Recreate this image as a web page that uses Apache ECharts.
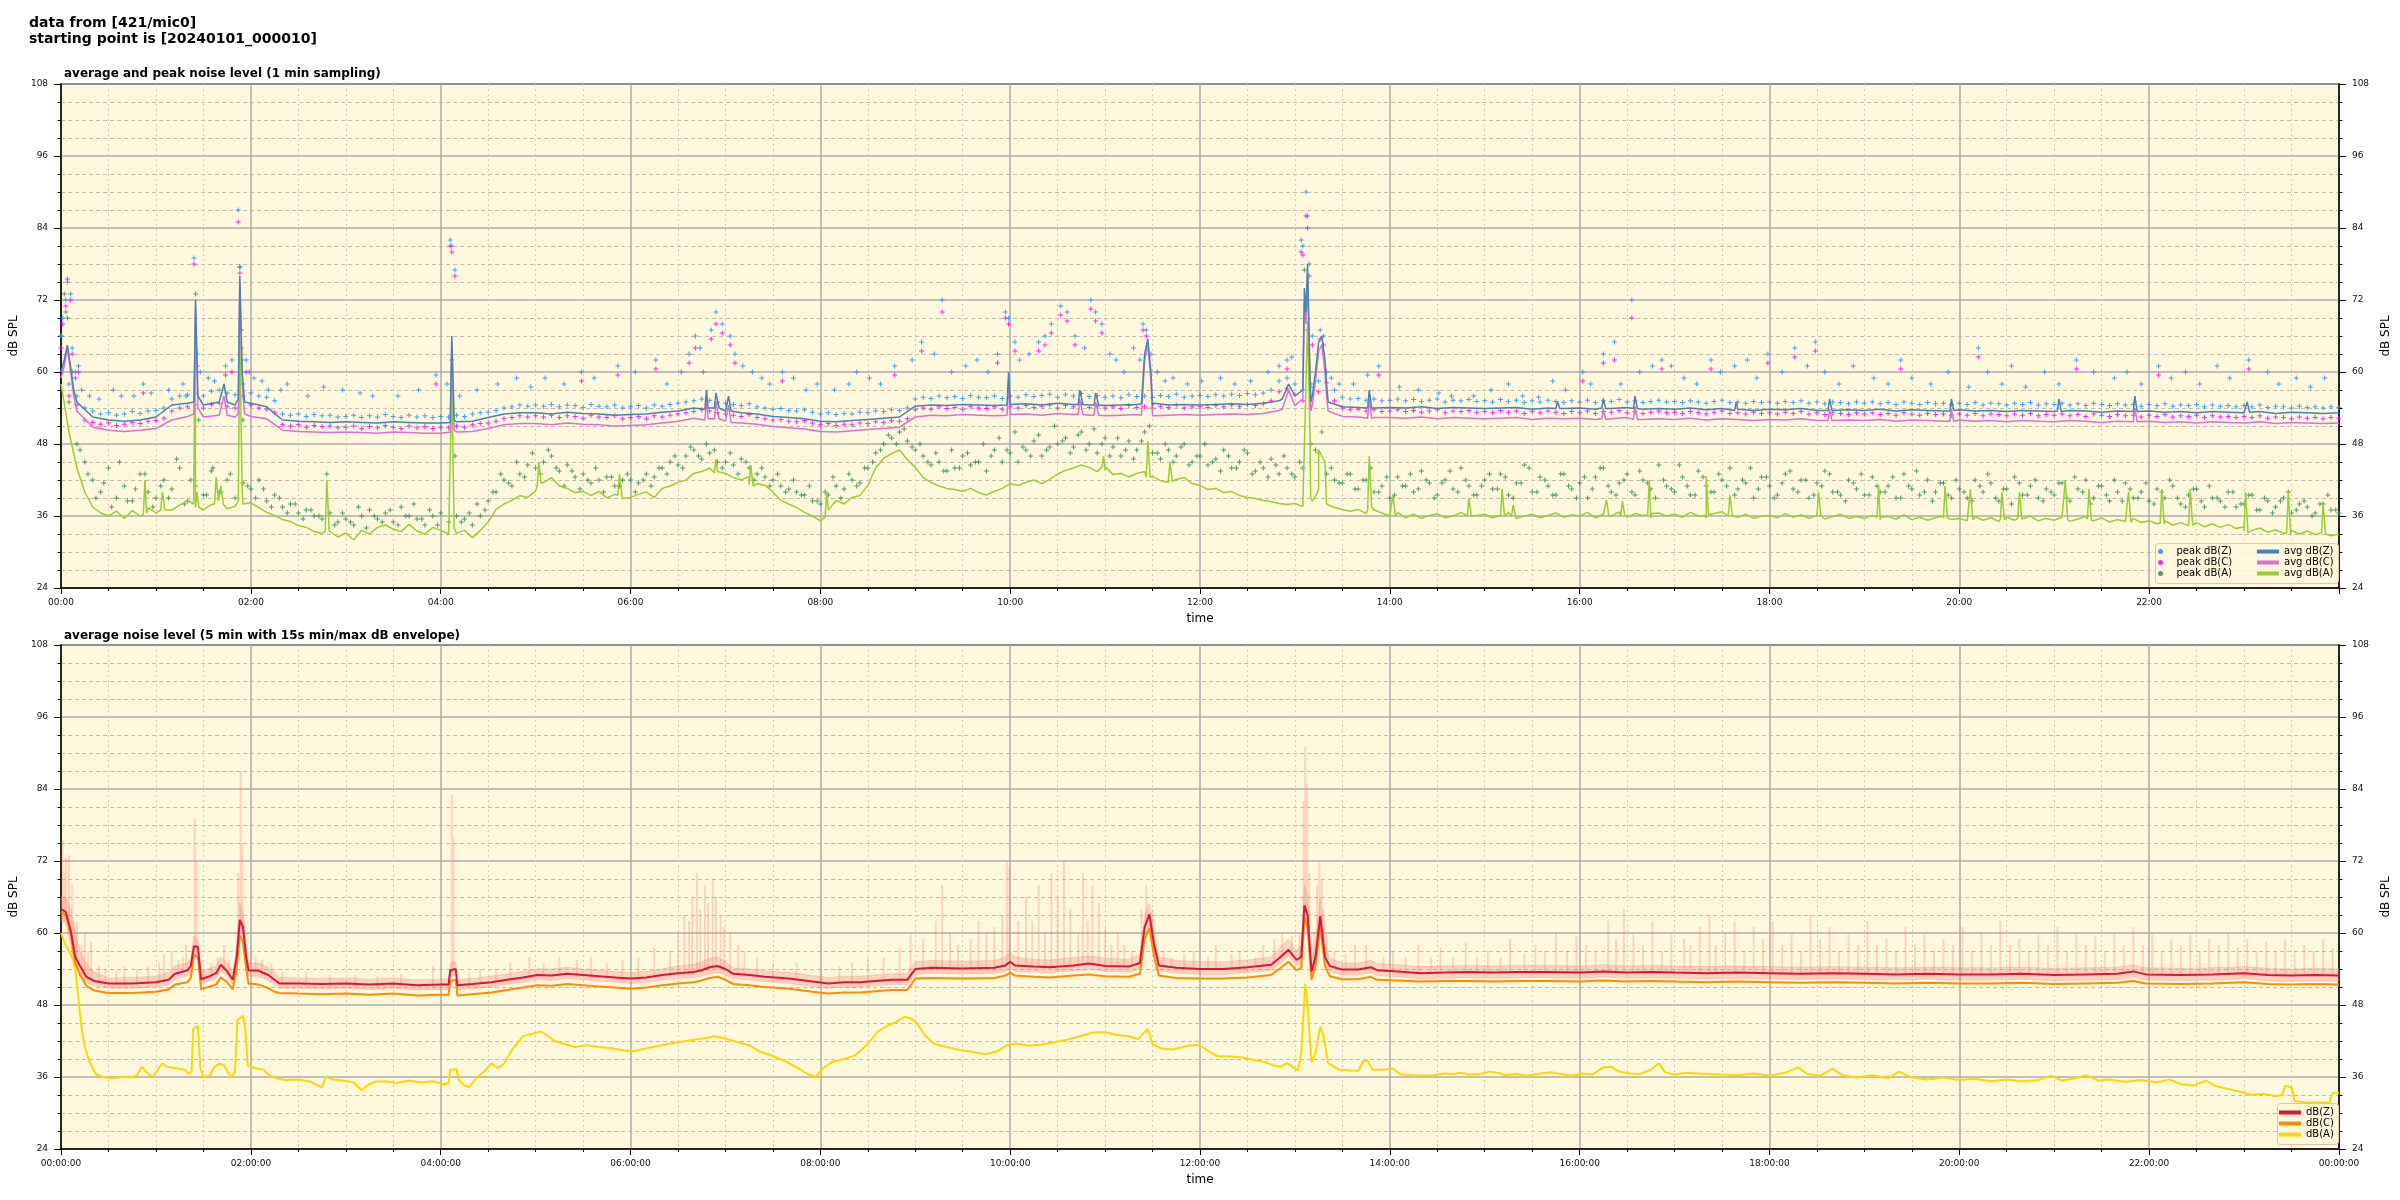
<!DOCTYPE html>
<html><head><meta charset="utf-8">
<script src="https://cdn.jsdelivr.net/npm/echarts/dist/echarts.min.js"></script>
<style>html,body{margin:0;padding:0;background:#fff}#c{width:2400px;height:1200px}</style>
</head><body><div id="c"></div>
<script>
// ---------- tick labels ----------
const yTicks = [24, 36, 48, 60, 72, 84, 96, 108];
const hourTicks = [0,120,240,360,480,600,720,840,960,1080,1200,1320,1440];

// ---------- top chart: 1-min averages (5-min readings) ----------
const avgA5 = [
58,50,44,40,37.5,36.5,36,36.8,35.6,36.9,36,37.4,
36.5,38.4,37,37.8,38.6,37.4,37,37.9,38.5,37.2,37.6,38,
38.2,37.4,36.6,36.1,35.4,35.1,34.4,34.1,33.4,33.1,33.6,32.5,
33.2,32,33.6,33,34.1,34.5,33.8,33.4,34.6,33.5,33,34.1,
33.6,33,33.1,33.6,32.4,33.6,35,37.1,38,38.6,39.4,39.1,
40.2,41.6,42.4,41,40.6,39.9,40.1,39.4,40.1,39,39.6,38.9,
39.1,39.6,40,39.1,40.6,41,41.6,42,43.1,43.4,44,43.4,
43.1,42.4,42,42.6,41.4,41.1,40,38.6,38,37.4,36.6,36,
35.2,37,38.6,38,39.1,39.4,41.1,44,45.6,46.4,47,45.4,
44.1,42.4,41.6,41,40.6,40.4,40.1,40.6,39.9,39.5,40.1,40.6,
41.4,41.1,41.6,42,41.4,42.1,43,43.6,44,44.5,44.1,43.4,
43.6,42.9,43.1,42.5,43.1,43.4,42.6,41.9,41.6,42.1,42.4,41.4,
41.1,40.4,40.6,39.9,40.1,39.4,39.1,38.9,38.6,38.4,38.1,37.9,
38.1,37.6,39,40.5,38,37.4,37.1,36.8,37.1,36.4,37,36.5,
36,36.6,35.7,36.3,35.6,36.1,36.4,35.7,36,36.6,35.7,36.1,
36.3,35.7,36.1,36.6,35.6,36,36.3,35.7,36.1,36.5,35.8,36.2,
36,36.6,35.7,36.3,36,36.7,35.8,36.4,36.1,35.7,36.5,36,
36.3,35.8,36.6,36,35.7,36.4,36.7,36,35.8,36.3,35.6,36,
36.1,35.7,36.4,35.8,36.2,35.6,36.1,35.5,35.9,36.3,35.6,35.9,
35.6,36.1,35.4,35.9,35.5,36.2,35.4,35.8,35.3,35.7,36,35.4,
35.6,35.2,35.9,35.3,35.7,35.1,35.8,35.3,35.5,36,35.2,35.6,
35.3,35.8,35.1,35.5,35.9,35.2,35.7,35,35.4,35.1,35.6,34.9,
35.2,34.7,35.2,34.5,34.9,34.4,34.9,34.2,34.7,34.1,34.6,33.9,
34.2,33.6,34,33.3,33.7,33.1,33.6,33,33.5,32.9,33.4,32.7,
33];
const avgASpikes = [[52,36.2],[53,42],[54,36.5],[63,37],[64,40],[65.5,37],[83.8,38],[84.8,67.5],[86,40],[87,37.5],
[97,38],[98,42.5],[99.5,38.5],[101,41],[102.5,38],[112,38.5],[113,65.5],[114.5,40],[116,38],[167,33.5],[168,42],[169.5,33.5],
[246,33],[247,58],[248.5,34],[301,41],[302,45],[303.5,41.5],[352,39.5],[353,43],[354.5,39.5],[413,43.2],[414,45.5],[415.5,43.3],
[435,41.2],[436,44.5],[437.5,41],[483,35.8],[484,40],[485.5,37],[658,44.2],[659,46],[660.5,44.1],[686,42.5],[687,48.5],[688.5,42.5],
[700,42.1],[701,45],[702.5,41.8],[786,37.8],[787,58],[788,68.5],[789.5,50],[791,38.5],[793.5,39.5],[795,47],[797,46],[799,45],[800.5,38.3],
[826,37],[827,46],[828.5,37.5],[841,36],[842,39.5],[843.5,36],[889,36],[890,39],[891.5,36],[910,36],[911,40.5],[912.5,36],
[917,36],[918,37.8],[919.5,36],[976,36],[977,38.7],[978.5,36],[986,36],[987,38.5],[988.5,36.2],[1003,36.2],[1004,42],[1005.5,36.4],
[1039,36.1],[1040,42.6],[1041.5,36.2],[1054,36],[1055,39.5],[1056.5,36],[1110,35.9],[1111,40],[1112.5,36],[1148,35.8],[1149,41],[1150.5,35.8],
[1190,35.6],[1191,41],[1192.5,35.7],[1206,35.4],[1207,40.5],[1208.5,35.4],[1226,35.5],[1227,40],[1228.5,35.4],[1237,35.6],[1238,40],[1239.5,35.5],
[1266,35.6],[1267,42],[1268.5,35.4],[1281,35.5],[1282,40.5],[1283.5,35.3],[1306,35],[1307,40],[1308.5,35],[1327,34.8],[1328,40.5],[1329.5,34.7],
[1345,34.6],[1346,40.5],[1347.5,34.5],[1380,33.5],[1381,40],[1382.5,33.2],[1407,33.2],[1408,40],[1409.5,33],[1429,33.2],[1430,38],[1431.5,33]];

const avgZ10 = [
60,55,52.5,52,51.8,52,
52.5,54.5,54.8,54.5,55,54.5,
54.8,54.2,52,51.8,51.7,51.6,
51.7,51.6,51.5,51.7,51.6,51.5,
51.5,51.7,51.8,52.4,53,53.2,
53.2,53,53.3,53.1,53,52.8,
52.9,53,53.3,53.5,54,53.8,
53.5,53.2,53,52.6,52.4,52.2,
51.8,51.7,51.9,52.1,52.3,52.5,
54.3,54.5,54.4,54.6,54.5,54.4,
54.6,54.7,54.5,54.8,54.6,54.5,
54.4,54.5,54.6,54.4,54.5,54.6,
54.5,54.6,54.7,54.6,54.8,55.2,
56,55,58,54.2,54.1,54,
54.1,54,54.2,53.9,54.1,54,
53.9,54,54.1,53.8,54,53.9,
54,53.8,53.9,54.1,53.8,53.9,
53.8,54,53.7,53.9,53.8,53.6,
53.8,53.7,53.9,53.6,53.8,53.7,
53.6,53.8,53.5,53.7,53.6,53.5,
53.7,53.5,53.6,53.4,53.6,53.5,
53.4,53.6,53.5,53.3,53.5,53.4,
53.5,53.3,53.4,53.2,53.4,53.3,
53.2,53.4,53.1,53.3,53.2,53.1,
53.2];
const avgZSpikes = [[2,62],[4,64.5],[6,61],[8,57],[84,55],[85,72],[86.5,56],[101,55],[103,58],[105,55],[112,55.5],[113,76],[114.5,60],[116,55],
[246,51.6],[247,66],[248.5,52],[407,53.8],[408,57],[409,54],[413,54],[414,56.5],[416,54],[421,53.5],[422,56],[423.5,53.5],
[598,54.5],[599,60],[601,54.6],[643,54.6],[644,57],[646,54.6],[653,54.5],[654,56.5],[656,54.5],[683,54.7],[685,63],[687,65.5],[689,60],[691,54.8],
[772,55.5],[776,58],[781,56],[785,57],[786,74],[787,70],[788,78],[789.5,60],[791,56],[793,60],[795,65],[797,66],[799,62],[801,55],
[826,54],[827,57],[828.5,54],[945,53.9],[946,55],[947.5,53.9],[974,54],[975,55.5],[976.5,53.9],[994,53.9],[995,56],[996.5,53.9],
[1058,53.6],[1059,55],[1060.5,53.7],[1117,53.6],[1118,55.5],[1119.5,53.6],[1194,53.5],[1195,55.5],[1196.5,53.6],[1262,53.5],[1263,55.5],[1264.5,53.4],
[1310,53.4],[1311,56],[1312.5,53.4],[1381,53.3],[1382,55],[1383.5,53.3]];

const avgC10 = [
59,53.5,50.8,50.3,50.1,50.3,
50.6,52,52.6,52.5,52.8,52.5,
52.6,52.2,50.3,50.1,50,49.9,
50,49.9,49.8,50,49.9,49.8,
49.8,50,50.1,50.6,51.2,51.4,
51.4,51.2,51.5,51.3,51.2,51,
51.1,51.2,51.5,51.8,52.3,52.1,
51.8,51.5,51.3,50.9,50.7,50.5,
50.1,50,50.2,50.4,50.6,50.8,
52.5,52.8,52.7,52.9,52.8,52.7,
52.9,53,52.8,53.1,52.9,52.8,
52.7,52.8,52.9,52.7,52.8,52.9,
52.8,52.9,53,52.9,53.1,53.6,
54.4,53.5,56,52.6,52.5,52.4,
52.4,52.3,52.5,52.2,52.4,52.3,
52.2,52.3,52.4,52.1,52.3,52.2,
52.3,52.1,52.2,52.4,52.1,52.2,
52.1,52.3,52,52.2,52.1,51.9,
52.1,52,52.2,51.9,52.1,52,
51.9,52.1,51.8,52,51.9,51.8,
52,51.8,51.9,51.7,51.9,51.8,
51.7,51.9,51.8,51.6,51.8,51.7,
51.8,51.6,51.7,51.5,51.7,51.6,
51.5,51.7,51.4,51.6,51.5,51.4,
51.5];
const avgCSpikes = [[2,61],[4,64],[6,60],[8,56],[84,53],[85,71],[86.5,54],[101,52.8],[103,56],[105,52.8],[112,53],[113,75],[114.5,58],[116,53],
[246,50],[247,65],[248.5,50.3],[407,52],[408,55.5],[409,52.2],[413,52.2],[414,55],[416,52.2],[421,51.6],[422,54.5],[423.5,51.6],
[598,52.8],[599,58.5],[601,52.9],[643,52.9],[644,55.5],[646,52.9],[653,52.8],[654,55],[656,52.8],[683,52.8],[685,62],[687,64.5],[689,58.5],[691,53],
[772,53.8],[776,57],[781,54.5],[785,55.5],[786,72],[787,68],[788,76],[789.5,58],[791,54.5],[793,58.5],[795,63.5],[797,64.5],[799,60],[801,53.5],
[826,52.3],[827,55.5],[828.5,52.3],[974,52.2],[975,53.8],[976.5,52.1],[994,52.1],[995,54.3],[996.5,52.1],[1117,51.9],[1118,53.8],[1119.5,51.9],
[1194,51.8],[1195,53.8],[1196.5,51.8],[1310,51.7],[1311,54],[1312.5,51.7]];

// ---------- top chart: 1-min peaks (5-min readings + outliers) ----------
const peakZ5 = [
66,58,56,54,53.5,53,53.2,52.8,53,53.4,53.1,53.5,
53.6,54,55.5,56,56.2,56.5,56,56.8,57,56.5,56.2,58,
56.5,56,55.8,55.2,53,52.8,53,52.6,52.9,52.7,52.8,52.5,
52.6,52.8,52.4,52.7,52.5,52.9,52.6,52.4,52.8,52.5,52.7,52.4,
52.6,52.5,52.8,52.6,53,53.2,53.3,53.6,54,54.2,54.5,54.3,
54.5,54.3,54.6,54.2,54.5,54.4,54.1,54.6,54.3,54.2,54.5,54,
54.2,54.4,54,54.5,54.3,54.6,54.8,55,55.2,55.5,55.3,55,
54.8,54.6,54.4,54.7,54.2,54,53.8,53.9,53.6,53.5,53.7,53.3,
53,53.2,52.9,53.1,53,53.3,53.2,53.5,53.4,53.7,53.6,54,
55.5,55.8,55.6,56,55.7,55.9,55.6,56.1,55.8,55.7,56,55.6,
56,55.8,56.2,55.9,56.1,56.3,55.8,56.2,56,56.4,55.9,56.1,
55.8,56,55.7,56.2,55.9,56,55.8,56.1,55.9,56.3,55.8,56,
56.1,55.9,56.2,56,56.3,56.1,56.4,56.2,56.5,57,58.5,59,
58,57,57.5,58.5,60,57,55.8,55.5,55.6,55.3,55.5,55.2,
55.3,55.5,55.2,55.4,55.1,55.3,55.5,55,55.3,55.2,55.4,55.1,
55.2,55,55.4,55.1,55.3,54.9,55.2,55,55.3,55.1,54.9,55.2,
55,55.3,54.9,55.2,55.1,55.4,55,55.2,54.9,55.1,55.3,55,
55.1,54.9,55.2,55,54.8,55.1,55.3,54.9,55,54.8,55.1,54.9,
55,54.8,55.1,54.9,55.2,54.8,55,54.7,55,54.9,54.7,55,
54.8,55,54.7,54.9,54.6,55,54.8,54.6,54.9,54.7,54.8,54.6,
54.8,54.6,54.9,54.5,54.8,54.7,54.5,54.8,54.6,54.9,54.5,54.7,
54.6,54.8,54.5,54.7,54.4,54.8,54.6,54.4,54.7,54.5,54.6,54.3,
54.6,54.4,54.7,54.3,54.5,54.4,54.6,54.2,54.5,54.3,54.4,54.2,
54.4,54.2,54.5,54.1,54.3,54.2,54,54.3,54.1,54.2,54,54.2,
54.1];
const peakZOut = [[1,69],[3,72],[4,75],[6,73],[7,64],[9,60],[11,61],[13,57],[18,56],[24,55.5],[33,57],[38,56],[46,56],[52,58],[57,56.5],[68,57],[77,58],[79,56],
[84,79],[86,63],[88,60],[93,59],[97,58.5],[104,61],[108,62],[112,87],[113,77.5],[114,64],[117,62],[119,60],[122,59],[127,58.5],[131,57],[139,57],[143,58],
[156,56],[166,57.5],[178,57],[189,56.5],[197,56],[213,56],[226,57],[237,59.5],[244,58],[246,82],[247,81],[249,77],[252,56],[263,57],[276,58],[288,59],
[297,57.5],[306,59],[318,58],[329,60],[337,59],[352,61],[363,60],[376,62],[383,58],[392,60],[397,63],[401,66],[404,64],[406,60],[411,67],[414,70],[418,68],
[423,66],[426,63],[431,61],[437,60],[443,59],[448,58],[456,60],[463,59],[471,57],[478,58],[489,57],[498,58],[503,60],[511,59],[518,58],[527,61],[538,62],
[544,65],[552,63],[557,72],[563,60],[572,61],[579,62],[586,60],[592,63],[597,70],[599,69],[603,65],[606,62],[612,63],[618,65],[622,66],[626,68],[632,71],
[636,70],[641,66],[647,64],[651,72],[654,70],[658,68],[663,63],[667,62],[672,60],[678,64],[682,62],[684,68],[686,67],[689,63],[693,60],[698,58.5],[703,59],
[712,58],[721,58.5],[733,59],[742,58],[752,58.5],[763,60],[770,61],[775,62],[778,62.5],[784,82],[785,81],[787,90],[788,86],[789,78],[791,66],[796,67],[798,66],
[803,59],[808,58],[817,58],[826,59.5],[833,61],[846,57.5],[858,57],[871,56.5],[879,56],[893,56],[904,57],[915,58],[924,56],[934,55.8],[943,58.5],[951,57],
[962,60],[967,58],[975,63],[982,65],[986,58],[993,72],[998,60],[1006,61],[1012,62],[1018,61],[1026,59],[1034,58],[1043,62],[1049,60],[1058,61],[1066,62],
[1072,59],[1079,63],[1088,60],[1096,64],[1104,61],[1109,65],[1115,60],[1124,58],[1133,61],[1146,59],[1155,58],[1163,62],[1170,59],[1182,58],[1193,60],
[1206,57.5],[1212,64],[1218,60],[1227,58],[1233,61],[1242,57.5],[1254,60],[1263,58],[1274,62],[1285,60],[1298,59],[1306,60],[1315,58],[1326,61],[1334,59],
[1343,60],[1352,58],[1363,61],[1371,59],[1383,62],[1395,60],[1402,58],[1413,59],[1422,57.5],[1431,59]];

const peakC5 = [
64,56,54.5,52,51.6,51.3,51.5,51.1,51.3,51.6,51.4,51.8,
51.9,52.3,53.5,54,54.2,54.5,54,54.6,54.8,54.3,54,56,
54.5,54,53.8,53.2,51.2,51,51.2,50.8,51.1,50.9,51,50.7,
50.8,51,50.6,50.9,50.7,51.1,50.8,50.6,51,50.7,50.9,50.6,
50.8,50.7,51,50.8,51.2,51.4,51.5,51.8,52.2,52.4,52.7,52.5,
52.7,52.5,52.8,52.4,52.7,52.6,52.3,52.8,52.5,52.4,52.7,52.2,
52.4,52.6,52.2,52.7,52.5,52.8,53,53.2,53.4,53.7,53.5,53.2,
53,52.8,52.6,52.9,52.4,52.2,52,52.1,51.8,51.7,51.9,51.5,
51.2,51.4,51.1,51.3,51.2,51.5,51.4,51.7,51.6,51.9,51.8,52.2,
53.7,54,53.8,54.2,53.9,54.1,53.8,54.3,54,53.9,54.2,53.8,
54.2,54,54.4,54.1,54.3,54.5,54,54.4,54.2,54.6,54.1,54.3,
54,54.2,53.9,54.4,54.1,54.2,54,54.3,54.1,54.5,54,54.2,
54.3,54.1,54.4,54.2,54.5,54.3,54.6,54.4,54.7,55.2,56.7,57.2,
56.2,55.2,55.7,56.7,58.2,55.2,54,53.7,53.8,53.5,53.7,53.4,
53.5,53.7,53.4,53.6,53.3,53.5,53.7,53.2,53.5,53.4,53.6,53.3,
53.4,53.2,53.6,53.3,53.5,53.1,53.4,53.2,53.5,53.3,53.1,53.4,
53.2,53.5,53.1,53.4,53.3,53.6,53.2,53.4,53.1,53.3,53.5,53.2,
53.3,53.1,53.4,53.2,53,53.3,53.5,53.1,53.2,53,53.3,53.1,
53.2,53,53.3,53.1,53.4,53,53.2,52.9,53.2,53.1,52.9,53.2,
53,53.2,52.9,53.1,52.8,53.2,53,52.8,53.1,52.9,53,52.8,
53,52.8,53.1,52.7,53,52.9,52.7,53,52.8,53.1,52.7,52.9,
52.8,53,52.7,52.9,52.6,53,52.8,52.6,52.9,52.7,52.8,52.5,
52.8,52.6,52.9,52.5,52.7,52.6,52.8,52.4,52.7,52.5,52.6,52.4,
52.6,52.4,52.7,52.3,52.5,52.4,52.2,52.5,52.3,52.4,52.2,52.4,
52.3];
const peakCOut = [[1,68],[3,71],[4,75.5],[6,72],[7,63],[9,59],[11,60],[52,56.5],[84,78],[86,61],[104,59.5],[108,60],[112,85],[113,76.5],[114,62],[117,60],
[237,58],[246,81],[247,80],[249,76],[329,58.5],[352,59.5],[376,60.5],[397,61.5],[401,64],[411,65.5],[414,68],[418,66.5],[423,64.5],[426,61.5],[456,58.5],
[527,59.5],[544,63.5],[557,70],[592,61.5],[597,69],[599,68],[603,63.5],[618,63.5],[622,64.5],[626,66.5],[632,69.5],[636,68.5],[641,64.5],[651,70.5],[654,68.5],
[658,66.5],[684,67],[686,66],[775,60.5],[784,80],[785,79.5],[787,86],[788,84],[789,76],[791,64.5],[796,65.5],[798,64.5],[833,59.5],[962,58.5],[975,61.5],
[982,62],[993,69],[1012,60.5],[1043,60.5],[1079,61.5],[1096,62.5],[1109,63.5],[1163,60.5],[1212,62.5],[1274,60.5],[1326,59.5],[1383,60.5]];

const peakA5 = [
66,55,48,45,42,40,44,39,41,38.5,43,40,
39,42,40.5,44,38.5,41,39.5,43.5,40,42,39,41.5,
40.5,42,38.5,39.5,37.5,38,36.5,37,36,35.5,36.5,35,
35.5,34.5,36,37,35.5,36.5,35,37.5,36,35.5,34.5,36,
36.5,35,36,35.5,34.5,36,38.5,40,42,41,43,44.5,
44,45,46,43.5,44.5,42.5,43,41.5,42,42.5,41,42,
42,41.5,43,42.5,44,45,44.5,46,47,45.5,46.5,45,
45,44.5,45.5,44,43,42.5,42,41,40.5,40,39.5,38.5,
38,39.5,41,40.5,42,41.5,44,46.5,48,49,50,48.5,
47,46,44.5,45,43.5,44,46,44.5,45,43.5,47,45,
46.5,45,47,48.5,46,47.5,48,49,47.5,50,48,46.5,
49,47.5,46,48.5,47,50,46.5,45.5,47,46,48,45,
46,44.5,45.5,47,44,45,46.5,43.5,44,45.5,43,44,
42.5,44,48,46.5,43,42,41.5,43,40.5,42,40,41,
39,42.5,41,40,43.5,41.5,39.5,42,40.5,44,41,39.5,
42,40.5,43,39.5,41.5,44.5,40,42.5,41,39.5,43,40.5,
41.5,39,42.5,44,40,41.5,43,39.5,42,40.5,44.5,41,
40,42.5,39.5,43.5,41,40,42,44,40.5,41.5,39,42.5,
41,39.5,43,40.5,42,39,41.5,43.5,40,39.5,42,40.5,
39.5,42.5,40,41,39,43,40.5,39.5,42,40,41.5,39,
40.5,39,42,40,41.5,38.5,40.5,42.5,39.5,41,39,40.5,
39.5,41.5,38.5,40.5,42,39,41,38.5,40,41.5,39,40,
38.5,40.5,39,41,38,39.5,40.5,37.5,39,38.5,40,37.5,
38,39.5,37,38.5,37.5,39,36.5,38,37.5,36.5,38,37,
36.5];
const peakAOut = [[2,73],[3,70],[4,69],[7,60],[12,47],[17,43],[22,39],[27,41.5],[32,37.5],[37,45],[42,38.5],[47,40.5],[53,43],[58,37.5],[63,41],[68,39],
[73,45.5],[78,38],[82,42],[85,73],[87,52],[92,39.5],[96,44],[101,40],[107,43],[113,77.5],[114,67],[115,52],[118,41],[123,39],[128,40.5],[133,37.5],[138,39],
[143,36.5],[148,38],[153,35.5],[158,37],[163,36],[168,43],[173,34.5],[178,36.5],[183,35],[188,37.5],[193,34],[198,36],[203,35],[208,37],[213,34.5],[218,36],
[223,38],[228,35.5],[233,37],[238,34.5],[247,62],[249,46],[253,35],[258,36.5],[263,38],[268,37],[273,40],[278,43],[283,41.5],[288,45],[293,42.5],[298,46.5],
[303,43],[308,47],[313,44],[318,41],[323,43.5],[328,40.5],[333,42],[338,44],[343,40],[348,42.5],[353,41],[358,43],[363,40],[368,42],[373,41],[378,44],[383,43],
[388,46],[393,44],[398,47.5],[403,46],[408,48],[413,47],[418,44],[423,46.5],[428,43],[433,45],[438,42],[443,44],[448,41],[453,43],[458,40],[463,42],[468,39.5],
[473,41],[478,38.5],[483,40],[488,42.5],[493,39],[498,43],[503,41],[508,44],[513,45],[518,47],[523,49.5],[528,48],[533,50.5],[538,47.5],[543,48],[548,45],
[553,46.5],[558,43.5],[563,47],[568,44],[573,46.5],[578,45],[583,48],[588,46],[593,49],[598,47],[603,50],[608,47.5],[613,46],[618,49.5],[623,47],[628,51],
[633,48.5],[638,46.5],[643,49.5],[648,47],[653,50.5],[658,48],[663,46],[668,49],[673,47],[678,45.5],[683,48.5],[688,51],[693,46.5],[698,48],[703,45],[708,47.5],
[713,44.5],[718,46],[723,48],[728,45],[733,43.5],[738,46],[743,44],[748,47],[753,43],[758,45],[763,42.5],[768,44.5],[773,46],[778,43],[783,45],[786,77],[788,67],
[790,58],[793,47],[797,50],[803,44],[808,41.5],[813,43],[818,40.5],[823,42],[828,44],[833,40],[838,42.5],[843,39.5],[848,41],[853,43],[858,40.5],[863,42],
[868,39],[873,41.5],[878,43.5],[883,40],[888,42],[893,39.5],[898,41],[903,43],[908,40.5],[913,42.5],[918,39],[923,41.5],[928,44],[933,40],[938,42],[943,39.5],
[948,43],[953,41],[958,39],[963,42.5],[968,40.5],[973,44],[978,41],[983,39.5],[988,42],[993,40],[998,43.5],[1003,41.5],[1008,39],[1013,42],[1018,40.5],
[1023,44.5],[1028,41],[1033,39.5],[1038,42.5],[1043,40],[1048,43],[1053,41],[1058,39.5],[1063,42],[1068,44],[1073,40.5],[1078,42.5],[1083,39],[1088,41.5],
[1093,43.5],[1098,40],[1103,42],[1108,39.5],[1113,41],[1118,43],[1123,40],[1128,38.5],[1133,41.5],[1138,43],[1143,39.5],[1148,41],[1153,40],[1158,42.5],
[1163,39],[1168,41],[1173,43.5],[1178,40],[1183,38.5],[1188,41.5],[1193,39.5],[1198,42],[1203,40],[1208,38.5],[1213,41],[1218,43],[1223,39],[1228,40.5],
[1233,38],[1238,41.5],[1243,39.5],[1248,42],[1253,38.5],[1258,40],[1263,41.5],[1268,39],[1273,42.5],[1278,40],[1283,38],[1288,41],[1293,39.5],[1298,42],
[1303,38.5],[1308,40.5],[1313,39],[1318,41.5],[1323,38],[1328,40],[1333,42],[1338,39],[1343,37.5],[1348,40.5],[1353,38.5],[1358,41],[1363,39],[1368,37.5],
[1373,40],[1378,38],[1383,39.5],[1388,37],[1393,39],[1398,36.5],[1403,38.5],[1408,40],[1413,37],[1418,38.5],[1423,36],[1428,38],[1433,39.5],[1438,37]];

// ---------- bottom chart: 5-min averages ----------
const dbZ5 = [[0,64],[3,63.5],[6,60.5],[9,56],[12,54.5],[16,52.7],[21,52],[30,51.6],[45,51.6],[60,51.8],[68,52.2],[72,53.2],[80,53.8],[82,54.5],[84,57.8],[86.5,57.7],
[88.5,52.3],[93,52.7],[98,53.3],[101,54.7],[105,53.6],[108.5,52.2],[111,56],[113,62.2],[115,61],[117,56],[118.5,53.8],[125,53.7],[131,53],[135,52.2],[138,51.6],
[150,51.6],[165,51.5],[180,51.6],[195,51.4],[210,51.6],[225,51.3],[240,51.4],[245,51.4],[246,53.8],[249.5,54],[250.5,51.3],[260,51.5],[272,51.8],[282,52.2],
[292,52.6],[301,53],[310,52.9],[320,53.2],[330,53],[340,52.8],[350,52.6],[360,52.4],[370,52.6],[380,53],[390,53.3],[400,53.5],[405,53.8],[410,54.3],[415,54.5],
[420,54],[425,53.2],[435,53],[445,52.7],[460,52.4],[475,51.9],[485,51.6],[495,51.8],[505,51.8],[515,52],[525,52.2],[535,52.2],[540,54],[550,54.2],[570,54.1],
[590,54.2],[597,54.6],[600,55.2],[603,54.6],[615,54.4],[625,54.3],[640,54.6],[650,54.9],[660,54.5],[675,54.4],[682,55],[685,61],[688,63.1],[691,58],[694,54.6],
[705,54.2],[720,54],[735,54],[750,54.3],[765,54.7],[770,55.8],[776,57.2],[781,55.5],[784,56],[786,64.6],[788,63],[790.5,53.6],[793,56],[796,62.8],[799,56],
[802,54.5],[810,53.9],[820,53.9],[828,54.3],[832,53.8],[845,53.6],[860,53.3],[875,53.4],[890,53.5],[905,53.4],[920,53.5],[940,53.5],[960,53.4],[975,53.6],
[990,53.4],[1005,53.5],[1020,53.4],[1040,53.3],[1060,53.4],[1080,53.3],[1100,53.2],[1120,53.3],[1140,53.2],[1160,53.1],[1180,53.2],[1200,53.1],[1220,53.1],
[1240,53.2],[1260,53],[1280,53.1],[1300,53.2],[1310,53.6],[1318,53.1],[1340,53],[1360,53.1],[1380,53.3],[1395,53],[1410,52.9],[1425,53],[1440,52.9]];
const dbC5 = [[0,63.5],[3,63],[6,60],[9,55],[12,53],[16,51.2],[21,50.4],[30,50],[45,50],[60,50.2],[68,50.6],[72,51.4],[80,51.8],[82,52.5],[84,56.3],[86.5,56],
[88.5,50.6],[93,51],[98,51.4],[101,52.6],[105,51.8],[108.5,50.6],[111,54],[113,59.7],[115,58.5],[117,54],[118.5,51.6],[125,51.4],[131,50.8],[135,50.2],[138,50],
[150,49.9],[165,49.8],[180,49.9],[195,49.7],[210,49.9],[225,49.6],[240,49.7],[245,49.7],[246,52],[249.5,52.2],[250.5,49.6],[260,49.8],[272,50.1],[282,50.5],
[292,50.9],[301,51.3],[310,51.2],[320,51.5],[330,51.3],[340,51.1],[350,50.9],[360,50.7],[370,50.9],[380,51.3],[390,51.6],[400,51.8],[405,52.1],[410,52.5],[415,52.7],
[420,52.2],[425,51.5],[435,51.3],[445,51],[460,50.7],[475,50.2],[485,49.9],[495,50.1],[505,50.1],[515,50.3],[525,50.5],[535,50.5],[540,52.4],[550,52.5],[570,52.4],
[590,52.5],[597,52.9],[600,53.4],[603,52.9],[615,52.7],[625,52.6],[640,52.9],[650,53.1],[660,52.8],[675,52.7],[682,53.2],[685,59],[688,60.8],[691,56],[694,52.9],
[705,52.5],[720,52.4],[735,52.4],[750,52.6],[765,53],[770,54],[776,55.2],[781,53.8],[784,54.2],[786,62.5],[788,61],[790.5,52.2],[793,54.5],[796,61],[799,54.5],
[802,52.8],[810,52.3],[820,52.3],[828,52.7],[832,52.2],[845,52.1],[860,51.9],[875,52],[890,52],[905,51.9],[920,52],[940,52],[960,51.9],[975,52.1],
[990,51.9],[1005,52],[1020,51.9],[1040,51.8],[1060,51.9],[1080,51.8],[1100,51.7],[1120,51.8],[1140,51.7],[1160,51.6],[1180,51.7],[1200,51.6],[1220,51.6],
[1240,51.7],[1260,51.5],[1280,51.6],[1300,51.7],[1310,52],[1318,51.6],[1340,51.5],[1360,51.6],[1380,51.8],[1395,51.5],[1410,51.4],[1425,51.5],[1440,51.4]];
const dbA5 = [[0,60],[2,58.5],[4,57.5],[7,56],[9,54],[11,49],[13,44],[15,41],[18,38.5],[22,36.5],[26,36],[32,35.8],[38,36],[44,35.9],[48,36.3],[51,37.7],[54,36.8],
[58,36],[62,37.5],[64,38.3],[67,37.7],[72,37.5],[78,37.2],[81,36.5],[82.5,37],[83.5,44],[86.5,44.5],[88,37.5],[90,36],[94,36.2],[97,37.7],[100,38.2],[103,38],
[106,36.5],[108,36],[110,37],[111.5,45.5],[115,46.2],[116.5,44],[118,38],[122,37.5],[128,37.2],[131,36.4],[136,35.8],[142,35.5],[150,35.6],[158,35.2],[162,34.6],
[165,34.3],[167,36],[172,35.6],[178,35.4],[185,35.1],[190,33.8],[193,34.5],[198,35.2],[205,35.3],[212,35],[220,35.4],[228,35.1],[235,35.3],[242,34.8],[245,35],
[246,37.2],[250,37.3],[251.5,35.5],[255,34.6],[258,34.3],[263,36],[268,37],[272,38.3],[276,37.5],[280,38.2],[285,40.5],[292,42.8],[298,43.2],[303,43.6],[307,43],
[312,42],[318,41.5],[325,41],[332,41.3],[340,41],[348,40.8],[356,40.4],[362,40.3],[370,40.8],[378,41.2],[385,41.6],[393,41.9],[400,42.2],[408,42.5],[413,42.8],
[420,42.4],[428,41.8],[435,41.3],[442,40.2],[450,39.5],[458,38.6],[465,37.6],[472,36.5],[477,36],[482,37.5],[488,38.6],[495,39],[502,39.6],[510,41.5],[516,43.5],
[522,44.5],[528,45.2],[533,46],[537,45.8],[541,45],[546,43],[552,41.5],[560,41],[568,40.5],[576,40.2],[584,39.8],[592,40.3],[598,41.3],[604,41.6],[612,41.2],
[620,41.4],[628,41.8],[636,42.2],[644,42.8],[652,43.4],[660,43.5],[667,43],[675,42.8],[681,42.3],[684,43.2],[687,44],[690,41.5],[695,40.8],[702,40.6],[708,40.9],
[714,41.3],[720,41.3],[726,40.2],[731,39.5],[740,39.4],[748,39.2],[755,38.8],[761,38.5],[767,37.9],[771,37.7],[775,38.3],[779,37.6],[782,37.1],[784,40],
[786.5,51.5],[788,48],[790.5,38.5],[793,40],[796,44.4],[798,43],[801,38.3],[808,37.2],[815,37.1],[820,37],[823,38.6],[826,38.7],[829,37.2],[836,37.2],[842,37.4],
[847,36.4],[855,36.3],[862,36.2],[868,36.3],[874,36.6],[880,36.5],[885,36.7],[890,36.4],[897,36.5],[903,36.9],[908,36.7],[913,36.3],[920,36.5],[927,36.2],
[935,36.6],[942,36.8],[948,36.5],[955,36.2],[962,36.6],[968,36.4],[975,37.6],[980,37.7],[985,36.9],[992,36.6],[998,36.5],[1005,37.2],[1010,38.3],[1014,36.8],
[1020,36.4],[1028,36.7],[1035,36.6],[1042,36.5],[1050,36.4],[1060,36.3],[1070,36.6],[1080,36.2],[1090,36.7],[1098,37.6],[1104,36.5],[1112,36.2],[1120,37.4],
[1126,36.3],[1135,35.9],[1145,36.3],[1155,35.8],[1162,36.9],[1170,35.9],[1180,35.6],[1190,35.9],[1200,35.5],[1210,35.7],[1220,35.3],[1230,35.6],[1240,35.3],
[1250,35.5],[1258,36.2],[1265,35.4],[1272,35.7],[1280,36.3],[1288,35.4],[1295,35.6],[1305,35.2],[1315,35.5],[1325,35.1],[1333,35.6],[1340,34.8],[1348,34.6],
[1356,35.4],[1362,34.5],[1370,34],[1378,33.5],[1385,33],[1392,33.2],[1400,32.8],[1404,33],[1406,34.5],[1410,34.3],[1412,32],[1420,31.7],[1428,31.8],[1434,31.7],
[1436,33.3],[1440,33.4]];

// 15 s min / max envelope of dB(Z): [minute, min, max]
const envelopeRows = [[0,62,66],[3,61.5,66],[6,58,64],[9,54.5,60],[12,53,57],[16,51.8,55],[21,51.2,53.5],[30,50.8,52.5],[45,50.8,52.6],[60,51,52.8],[68,51.4,53.4],
[72,52.3,54.5],[80,52.9,55],[82,53.5,56],[84,56.5,59.5],[86.5,56.3,59],[88.5,51.5,53.5],[93,51.9,54],[98,52.4,54.5],[101,53.7,56],[105,52.8,55],[108.5,51.4,53.4],
[111,54.5,58],[113,60.5,65],[115,59.5,63],[117,54.5,58],[118.5,52.8,55],[125,52.8,55],[131,52.1,54.2],[135,51.4,53.4],[138,50.8,52.6],[150,50.8,52.5],[165,50.7,52.4],
[180,50.8,52.5],[195,50.6,52.3],[210,50.8,52.5],[225,50.5,52.2],[240,50.6,52.3],[245,50.6,52.3],[246,52.8,55],[249.5,53,55.2],[250.5,50.5,52.2],[260,50.7,52.4],
[272,51,52.8],[282,51.4,53.2],[292,51.8,53.6],[301,52.2,54],[310,52.1,54],[320,52.4,54.3],[330,52.2,54],[340,52,53.8],[350,51.8,53.6],[360,51.6,53.4],[370,51.8,53.6],
[380,52.2,54],[390,52.4,54.5],[400,52.6,54.8],[405,52.8,55.2],[410,53.2,55.8],[415,53.4,56],[420,53,55.2],[425,52.4,54.2],[435,52.2,54],[445,51.9,53.7],[460,51.6,53.4],
[475,51.1,52.9],[485,50.8,52.6],[495,51,52.8],[505,51,52.8],[515,51.2,53],[525,51.4,53.2],[535,51.4,53.2],[540,53.1,55.2],[550,53.3,55.4],[570,53.2,55.3],[590,53.3,55.4],
[597,53.6,56],[600,54.2,56.8],[603,53.6,56],[615,53.5,55.6],[625,53.4,55.5],[640,53.7,55.9],[650,54,56.2],[660,53.6,55.8],[675,53.5,55.6],[682,54,56.5],[685,59.5,63],
[688,61.5,65],[691,56.5,60],[694,53.7,56],[705,53.3,55.4],[720,53.1,55.2],[735,53.1,55.2],[750,53.4,55.5],[765,53.8,56],[770,54.8,57.5],[776,56.2,59],[781,54.6,57],
[784,55,58],[786,62.5,68],[788,61,66],[790.5,52.6,55],[793,55,58.5],[796,61.5,66],[799,55,58],[802,53.6,55.8],[810,53,55],[820,53,55],[828,53.4,55.5],[832,52.9,54.9],
[845,52.7,54.7],[860,52.4,54.4],[875,52.5,54.5],[890,52.6,54.6],[905,52.5,54.5],[920,52.6,54.6],[940,52.6,54.6],[960,52.5,54.5],[975,52.7,54.7],[990,52.5,54.5],
[1005,52.6,54.6],[1020,52.5,54.5],[1040,52.4,54.4],[1060,52.5,54.5],[1080,52.4,54.4],[1100,52.3,54.3],[1120,52.4,54.4],[1140,52.3,54.3],[1160,52.2,54.2],
[1180,52.3,54.3],[1200,52.2,54.2],[1220,52.2,54.2],[1240,52.3,54.3],[1260,52.1,54.1],[1280,52.2,54.2],[1300,52.3,54.3],[1310,52.7,54.7],[1318,52.2,54.2],
[1340,52.1,54.1],[1360,52.2,54.2],[1380,52.4,54.4],[1395,52.1,54.1],[1410,52,54],[1425,52.1,54.1],[1440,52,54]];
// brief 15 s maxima sticking out of the envelope: [minute, from, to]
const envelopeSpikes = [[1,62,75.5],[2,62,70],[3,62,72.5],[5,60,73],[7,57,68],[8,56,62],[10,54,62],[13,53,58],[15,52,60],[17,52,57],[19,52,58.5],[24,51.5,54.5],
[28,51,54],[35,51,53.8],[40,51,54.5],[48,51,54],[55,51,54.5],[62,51.5,55],[65,52,56.5],[70,52.5,57],[74,53,55.5],[77,53.5,56],[79,53.5,58],[84.5,57,79],[85.5,57,72],
[90,52,54],[95,52.5,55],[99,53,56],[103,54,58],[106,53,55.5],[112,58,70],[113.5,60,87],[114.5,60,75],[116,56,62],[120,53.5,57],[123,53.5,56],[127,53,55.5],[133,52,55],
[140,51.5,53.5],[155,51.3,53.5],[170,51,53],[186,51,53],[200,51,52.8],[215,51,53.2],[235,51,54.5],[247,53.5,83],[248,53.5,76],[258,51,53.5],[265,51.5,54],[275,52,54],
[284,52,55],[296,52.5,56],[305,52.5,55],[315,52.8,56],[326,52.6,55.5],[335,52.4,56],[345,52.2,55],[355,52,55.5],[365,52,56],[375,52.5,57.5],[385,52.8,57],[390,53,60],
[394,53,63],[397,53,62],[399,53,66],[402,53.5,70],[404,53.5,64],[407,54,68],[409,54,65],[412,54,69],[414,54,66],[417,54,63],[419,53.5,61],[423,53,60],[428,52.8,58],
[432,52.8,57],[440,52.5,56],[450,52.3,55],[465,52,55],[480,51.6,54],[492,51.6,54.5],[500,51.6,55],[510,51.8,56],[520,52,56],[530,52,57.5],[537,52.2,60],[545,54,59],
[553,54,62],[557,54,68],[562,54,60],[567,54,58],[575,54,59],[580,54,62],[585,54,60],[590,54,61],[595,54.5,63],[598,54.6,72],[599.5,54.6,71],[605,54.4,62],[610,54.4,66],
[614,54.4,62],[618,54.4,68],[622,54.3,60],[626,54.3,70],[630,54.5,66],[634,54.6,72],[638,54.6,64],[643,54.8,60],[646,54.8,70],[649,54.9,62],[652,54.9,68],[656,54.7,65],
[660,54.5,61],[664,54.4,58],[668,54.4,60],[672,54.4,58],[677,54.4,57],[683,55,64],[686,62,68],[690,60,64],[697,54.4,57],[702,54.2,56],[710,54.1,56.5],[716,54,57],
[725,54,56],[730,54,58],[740,54,56.5],[745,54.2,57],[755,54.3,56],[760,54.5,58],[767,55,59],[772,56,60],[778,56,59.5],[783,55.5,60],[785.5,60,82],[786.5,62,91],
[787.5,62,85],[789,58,70],[792,54,60],[794,57,68],[795.5,60,72],[797,61,69],[798,58,64],[800,56,60],[805,54,57],[812,54,56.5],[818,54,58],[825,54,58],[836,53.8,56],
[842,53.7,57],[850,53.5,56],[858,53.4,58],[866,53.4,56],[872,53.4,57.5],[880,53.5,56],[888,53.5,58.5],[895,53.4,56],[902,53.4,57],[910,53.5,56],[916,53.5,59],
[925,53.5,56.5],[932,53.5,58],[938,53.5,57],[945,53.5,60],[952,53.5,57],[958,53.4,59.5],[964,53.5,58],[970,53.6,57],[978,53.6,62],[983,53.5,59],[988,53.5,64],
[994,53.4,60],[1000,53.5,58],[1006,53.5,62],[1012,53.4,57],[1018,53.4,60],[1026,53.4,59],[1030,53.4,58],[1036,53.4,61],[1042,53.3,63],[1046,53.3,58],[1052,53.4,60],
[1058,53.4,62],[1064,53.3,57],[1070,53.3,61],[1076,53.3,59],[1082,53.3,62],[1088,53.3,58],[1094,53.2,60],[1100,53.2,57],[1106,53.2,63],[1112,53.3,59],[1118,53.3,61],
[1124,53.3,57],[1130,53.2,60],[1136,53.2,58],[1142,53.2,62],[1148,53.1,58],[1154,53.1,59],[1160,53.1,57],[1166,53.2,61],[1172,53.2,58],[1178,53.2,60],[1184,53.2,57],
[1190,53.1,59],[1196,53.1,58],[1202,53.1,61],[1208,53.1,57],[1214,53.1,60],[1220,53.1,58],[1226,53.2,62],[1232,53.2,58],[1238,53.2,59],[1244,53.1,57],[1250,53,60],
[1256,53,58],[1262,53,61],[1268,53.1,57],[1274,53.1,60],[1280,53.1,58],[1286,53.1,59.5],[1292,53.2,57],[1298,53.2,60],[1304,53.3,58],[1310,53.6,61],[1316,53.2,58],
[1322,53.1,60],[1328,53,57],[1334,53,59],[1340,53,58],[1346,53,60],[1352,53.1,57],[1358,53.1,59],[1364,53.2,58],[1370,53.2,60],[1376,53.3,57.5],[1382,53.3,59],
[1388,53.1,57],[1394,53,58.5],[1400,53,57],[1406,52.9,59],[1412,52.9,57],[1418,53,58],[1424,53,57],[1430,53,59],[1436,52.9,57.5]];

// ---------- build helpers ----------
const onGrid = (vals, step) => vals.map((v, i) => [i * step, v]);
const withSpikes = (base, spikes) => base.concat(spikes).sort((a, b) => a[0] - b[0]);
const pad = n => String(n).padStart(2, '0');
const hhmm = v => pad(Math.floor(v / 60) % 24) + ':' + pad(Math.round(v % 60));

const FONT = 'DejaVu Sans';
const plusSym = 'path://M4,0H6V4H10V6H6V10H4V6H0V4H4Z';

function xAxisFor(gi, fmt, showMax) {
  return {
    gridIndex: gi, type: 'value', min: 0, max: 1440, interval: 120,
    axisLine: {show: true, onZero: false, lineStyle: {color: '#000', width: 1.5}},
    axisTick: {show: true, length: 6, lineStyle: {color: '#000', width: 1}},
    minorTick: {show: true, splitNumber: 4, length: 3, lineStyle: {color: '#000', width: 1}},
    axisLabel: {fontSize: 9, color: '#111', margin: 10, fontFamily: FONT, formatter: fmt, showMaxLabel: showMax, showMinLabel: true},
    splitLine: {show: true, lineStyle: {color: '#adadad', width: 1.5}},
    minorSplitLine: {show: true, lineStyle: {color: '#d6ccb4', width: 1, type: [2, 3]}},
    name: 'time', nameLocation: 'middle', nameGap: 25,
    nameTextStyle: {fontSize: 12, color: '#000', fontFamily: FONT}
  };
}
function yAxisFor(gi, pos, grid) {
  return {
    gridIndex: gi, type: 'value', min: 24, max: 108, interval: 12, position: pos,
    axisLine: {show: true, onZero: false, lineStyle: {color: '#000', width: 1.5}},
    axisTick: {show: true, length: 7, lineStyle: {color: '#000', width: 1}},
    minorTick: {show: true, splitNumber: 4, length: 3.5, lineStyle: {color: '#000', width: 1}},
    axisLabel: {fontSize: 9, color: '#111', margin: 13, fontFamily: FONT,
      formatter: v => yTicks.indexOf(v) >= 0 ? String(v) : ''},
    splitLine: {show: grid, lineStyle: {color: '#adadad', width: 1.5}},
    minorSplitLine: {show: grid, lineStyle: {color: '#c4bcaa', width: 1, type: [4, 3]}},
    name: 'dB SPL', nameLocation: 'middle', nameGap: 33,
    nameTextStyle: {fontSize: 12, color: '#000', fontFamily: FONT}
  };
}

const lineS = (name, data, color, width, xi) => ({
  name, type: 'line', data, xAxisIndex: xi, yAxisIndex: xi === 0 ? 0 : 2,
  showSymbol: false, symbol: 'none', color, itemStyle: {color},
  lineStyle: {color, width}, emphasis: {disabled: true}, animation: false
});
const scatterS = (name, data, color) => ({
  name, type: 'scatter', data, xAxisIndex: 0, yAxisIndex: 0, symbol: plusSym, symbolSize: 5,
  color, itemStyle: {color, opacity: 0.85}, emphasis: {disabled: true}, animation: false, large: false
});

const envSpikeLines = [];
envelopeSpikes.forEach(s => { envSpikeLines.push([s[0], s[1]], [s[0], s[2]], [s[0], '-']); });
const envColor = 'rgba(250,128,114,0.3)';

// envelope band drawn as one polygon through the axis scales
const envelopeSeries = {
  name: 'envelope', type: 'custom', xAxisIndex: 1, yAxisIndex: 2, data: [[720, 60]], silent: true, animation: false,
  renderItem: (params, api) => {
    const pts = [];
    envelopeRows.forEach(r => pts.push(api.coord([r[0], r[2]])));
    for (let i = envelopeRows.length - 1; i >= 0; i--) pts.push(api.coord([envelopeRows[i][0], envelopeRows[i][1]]));
    return {type: 'polygon', shape: {points: pts}, style: {fill: envColor, stroke: envColor, lineWidth: 1}};
  }
};

const legendText = {fontSize: 10, lineHeight: 11, color: '#000', fontFamily: FONT};
const option = {
  animation: false,
  backgroundColor: '#ffffff',
  textStyle: {fontFamily: FONT},
  title: [
    {text: 'data from [421/mic0]\nstarting point is [20240101_000010]', left: 24, top: 10,
     textStyle: {fontFamily: FONT, fontWeight: 'bold', fontSize: 14, lineHeight: 16, color: '#000'}},
    {text: 'average and peak noise level (1 min sampling)', left: 59, top: 63,
     textStyle: {fontFamily: FONT, fontWeight: 'bold', fontSize: 12, color: '#000'}},
    {text: 'average noise level (5 min with 15s min/max dB envelope)', left: 59, top: 625,
     textStyle: {fontFamily: FONT, fontWeight: 'bold', fontSize: 12, color: '#000'}}
  ],
  grid: [
    {left: 59, top: 84, width: 2284, height: 504, show: true, backgroundColor: '#fff8dc', borderColor: '#000', borderWidth: 1.5},
    {left: 59, top: 645, width: 2284, height: 504, show: true, backgroundColor: '#fff8dc', borderColor: '#000', borderWidth: 1.5}
  ],
  xAxis: [
    xAxisFor(0, v => hhmm(v), false),
    xAxisFor(1, v => hhmm(v) + ':00', true)
  ],
  yAxis: [
    yAxisFor(0, 'left', true), yAxisFor(0, 'right', false),
    yAxisFor(1, 'left', true), yAxisFor(1, 'right', false)
  ],
  graphic: [
    {type: 'rect', left: 2155, top: 543, shape: {width: 183, height: 40, r: 3}, z: 100,
     style: {fill: 'rgba(255,248,220,0.85)', stroke: '#d8c9a2', lineWidth: 1}},
    {type: 'rect', left: 2277, top: 1103, shape: {width: 61, height: 41, r: 3}, z: 100,
     style: {fill: 'rgba(255,248,220,0.85)', stroke: '#d8c9a2', lineWidth: 1}}
  ],
  legend: [
    {left: 2158, top: 546, orient: 'vertical', padding: 0, itemGap: 0, itemWidth: 22, itemHeight: 5, icon: 'circle',
     textStyle: legendText, selectedMode: false, z: 110, data: ['peak dB(Z)', 'peak dB(C)', 'peak dB(A)']},
    {left: 2257, top: 546, orient: 'vertical', padding: 0, itemGap: 0, itemWidth: 22, itemHeight: 4, icon: 'rect',
     textStyle: legendText, selectedMode: false, z: 110, data: ['avg dB(Z)', 'avg dB(C)', 'avg dB(A)']},
    {left: 2279, top: 1107, orient: 'vertical', padding: 0, itemGap: 0, itemWidth: 22, itemHeight: 4, icon: 'rect',
     textStyle: legendText, selectedMode: false, z: 110, data: ['dB(Z)', 'dB(C)', 'dB(A)']}
  ],
  series: [
    scatterS('peak dB(A)', onGrid(peakA5, 5).concat(peakAOut), '#2e8b57'),
    scatterS('peak dB(C)', onGrid(peakC5, 5).concat(peakCOut), '#ff00ff'),
    scatterS('peak dB(Z)', onGrid(peakZ5, 5).concat(peakZOut), '#1e90ff'),
    lineS('avg dB(A)', withSpikes(onGrid(avgA5, 5), avgASpikes), '#9acd32', 1.5, 0),
    lineS('avg dB(C)', withSpikes(onGrid(avgC10, 10), avgCSpikes), '#da70d6', 1.5, 0),
    lineS('avg dB(Z)', withSpikes(onGrid(avgZ10, 10), avgZSpikes), '#4682b4', 1.5, 0),
    envelopeSeries,
    {name: 'envSpikes', type: 'line', data: envSpikeLines, xAxisIndex: 1, yAxisIndex: 2, showSymbol: false, symbol: 'none',
     connectNulls: false, lineStyle: {width: 2, color: envColor}, silent: true, animation: false},
    lineS('dB(A)', dbA5, '#ffd700', 2, 1),
    lineS('dB(C)', dbC5, '#ff8c00', 2, 1),
    lineS('dB(Z)', dbZ5, '#dc143c', 2, 1)
  ]
};
const chart = echarts.init(document.getElementById('c'), null, {renderer: 'canvas'});
chart.setOption(option);
</script></body></html>
